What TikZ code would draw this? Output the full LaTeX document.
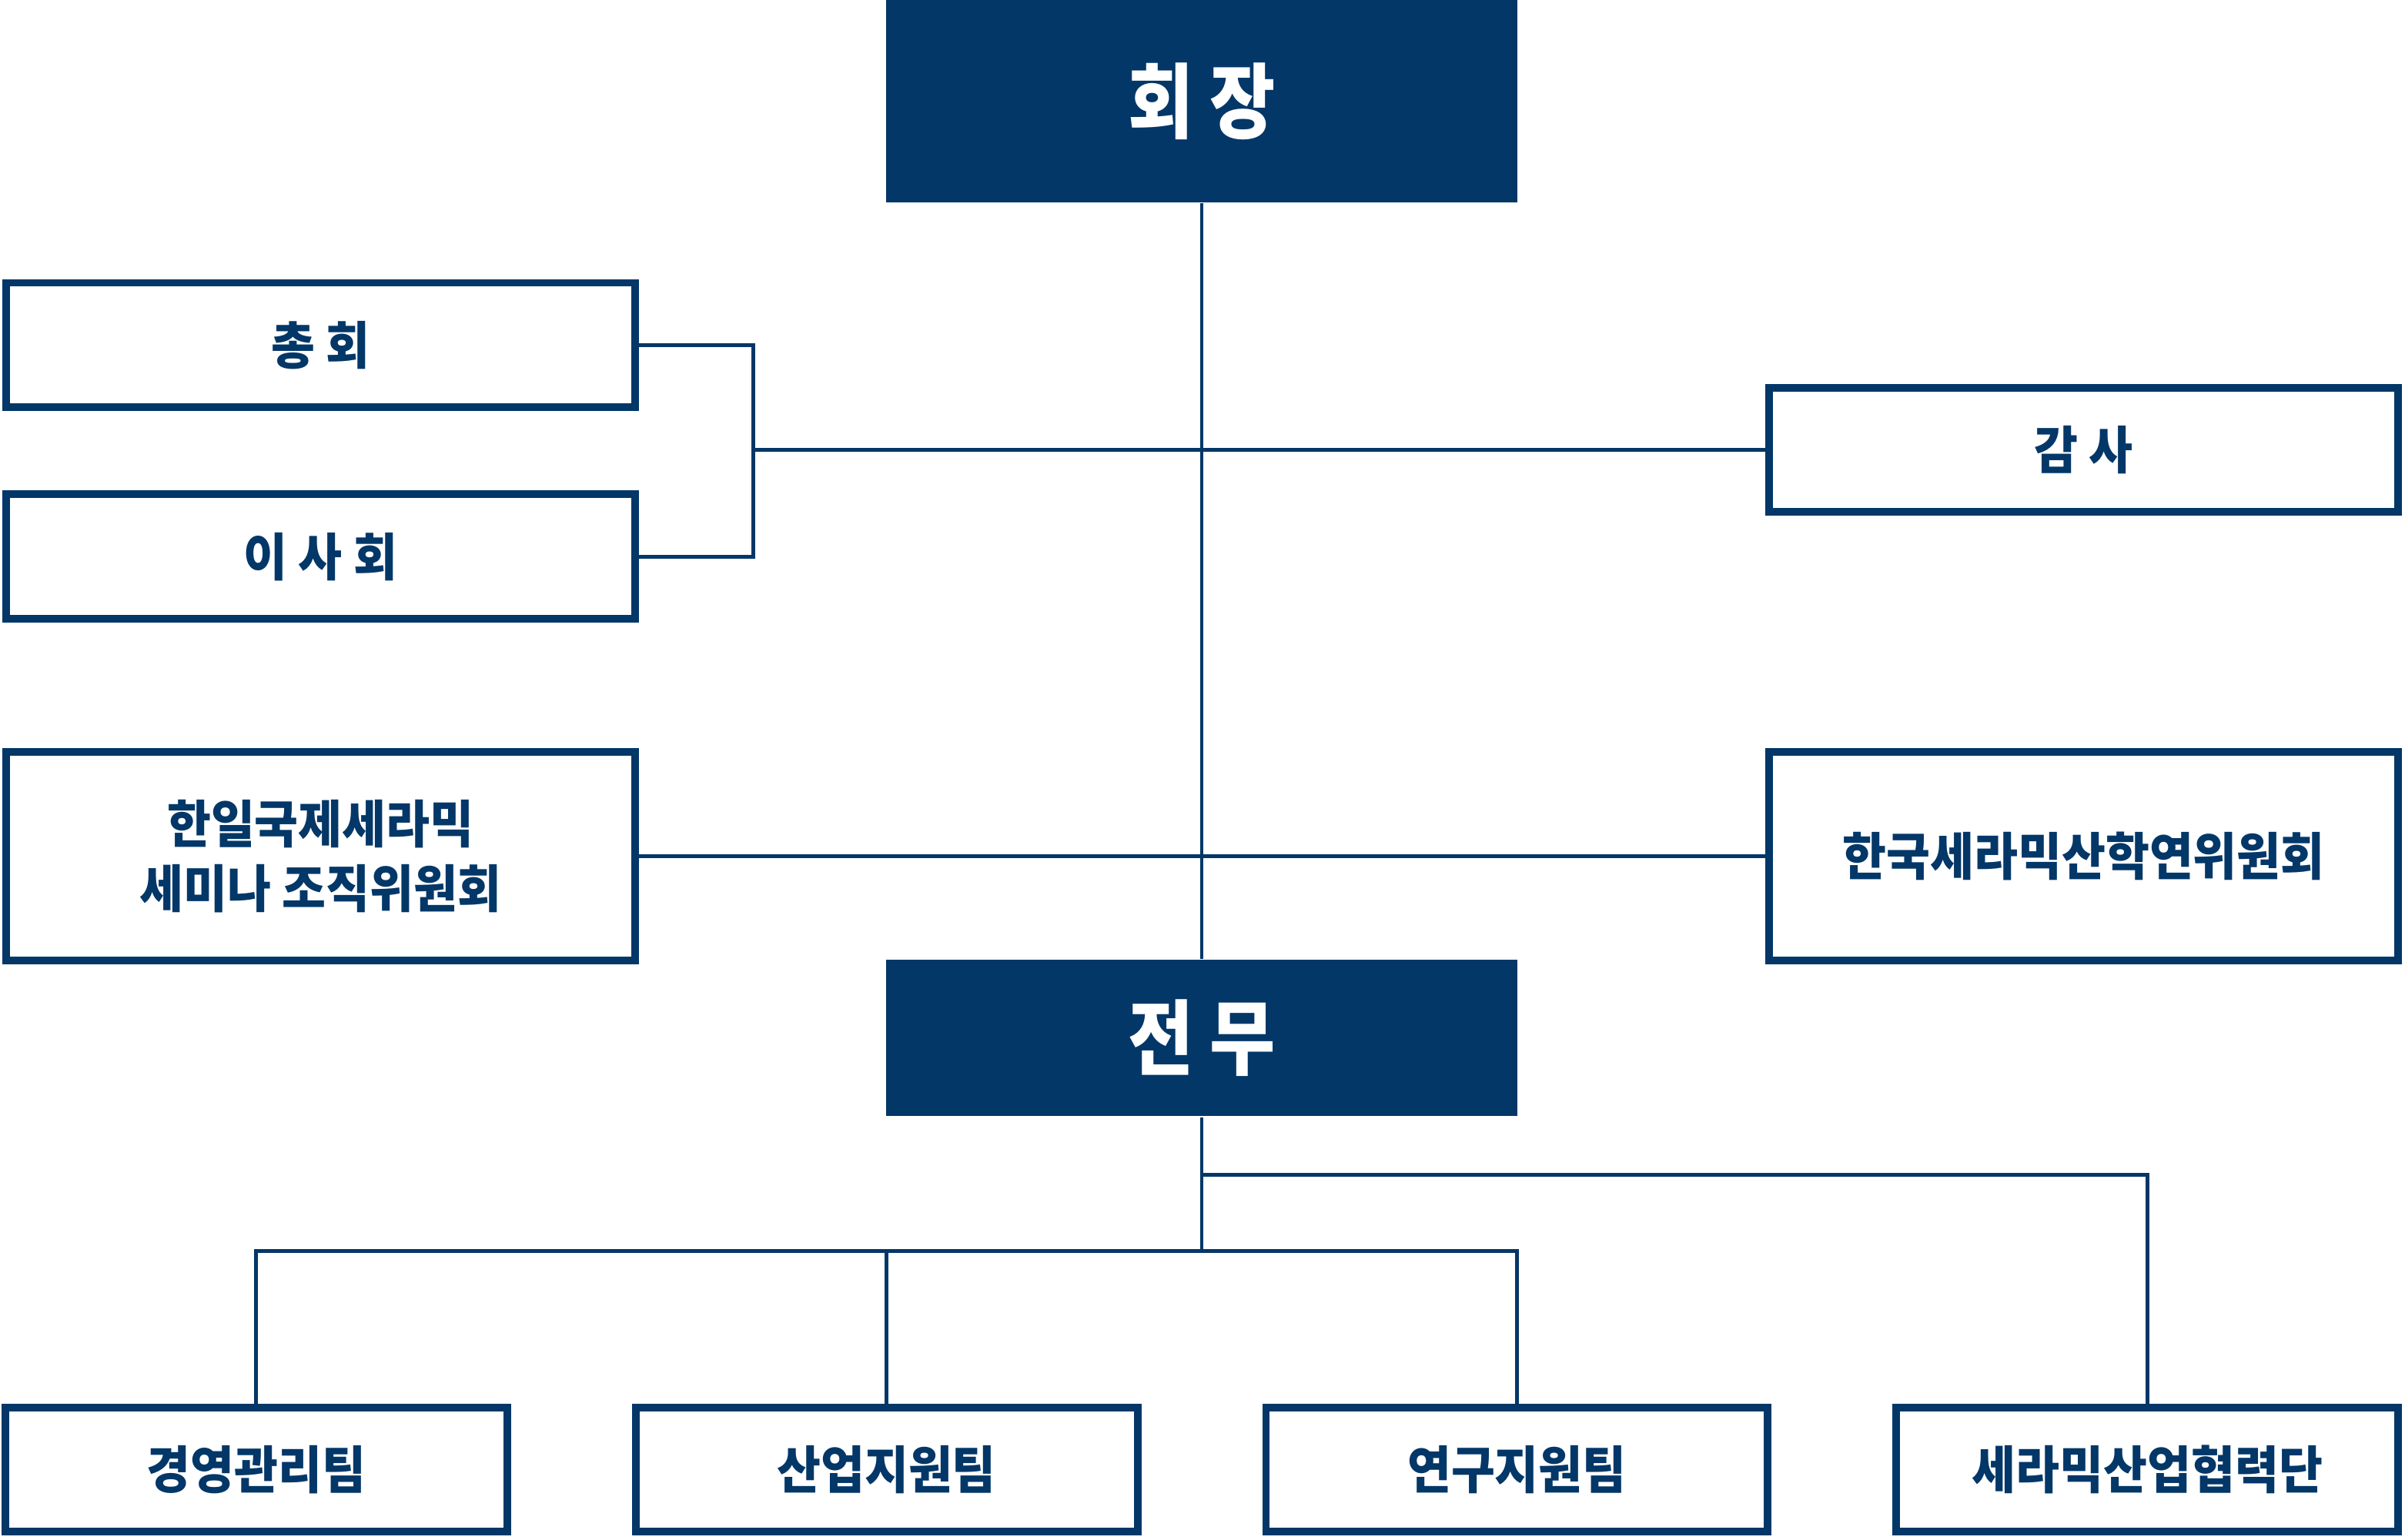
\documentclass[tikz,border=0pt]{standalone}
\usepackage{fontspec}
\setmainfont{Noto Sans CJK KR}[FakeStretch=0.93]
\newfontfamily\headfont{Noto Sans CJK KR}[FakeStretch=0.87]
\definecolor{navy}{RGB}{3,55,104}
\begin{document}
\begin{tikzpicture}[x=0.01cm, y=-0.01cm, line join=miter,
  font=\bfseries\fontsize{9.5pt}{12pt}\selectfont,
  headbox/.style={fill=navy, text=white, inner sep=0pt, minimum width=4.11cm,
    font=\headfont\bfseries\fontsize{15.2pt}{17pt}\selectfont},
  unitbox/.style={draw=navy, line width=0.05cm, fill=white, text=navy, inner sep=0pt,
    align=center, minimum width=4.10cm, minimum height=0.81cm},
  teambox/.style={unitbox, minimum width=3.27cm},
  link/.style={draw=navy, line width=0.025cm}]
\useasboundingbox (0,0) rectangle (1568,1004);
% top
\node[headbox, minimum height=1.32cm] (chair) at (783.5,66) {회 장};
\node[headbox, minimum height=1.02cm] (jeonmu) at (783.5,677) {전 무};
% left and right
\node[unitbox] (chonghoe) at (209,225) {총 회};
\node[unitbox] (isahoe) at (209,363) {이 사 회};
\node[unitbox, minimum height=1.36cm] (seminar) at (209,558.5) {한일국제세라믹\\세미나 조직위원회};
\node[unitbox] (gamsa) at (1358.5,293.5) {감 사};
\node[unitbox, minimum height=1.36cm] (sanhak) at (1358.5,558.5) {한국세라믹산학연위원회};
% teams
\node[teambox] (team1) at (167,958.5) {경영관리팀};
\node[teambox] (team2) at (578,958.5) {산업지원팀};
\node[teambox] (team3) at (989,958.5) {연구지원팀};
\node[teambox] (team4) at (1400,958.5) {세라믹산업협력단};
\coordinate (bracket) at (491,293.5);
\coordinate (fork) at (783.5,766);
\coordinate (split) at (783.5,816);
\path[link] (chair.south) -- (jeonmu.north);
\path[link] (chonghoe.east) -| (bracket) |- (isahoe.east);
\path[link] (bracket) -- (gamsa.west);
\path[link] (seminar.east) -- (sanhak.west);
\path[link] (jeonmu.south) -- (split);
\path[link] (team1.north) |- (split) -| (team3.north);
\path[link] (team2.north) -- (team2.north |- split);
\path[link] (fork) -| (team4.north);
\end{tikzpicture}
\end{document}
